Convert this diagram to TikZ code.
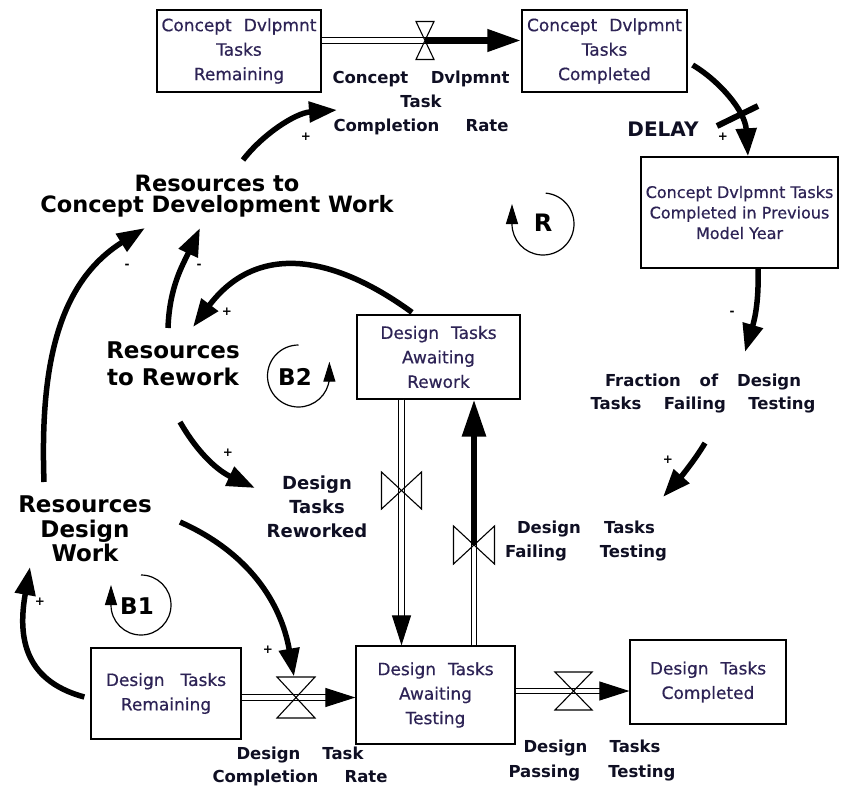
\documentclass[tikz,border=0pt]{standalone}
\usepackage{fontspec}
\setmainfont{DejaVu Sans}
\newfontfamily\stockfont{DejaVu Sans}[FakeBold=0.5]
\usetikzlibrary{arrows.meta,calc}
\definecolor{boxtxt}{RGB}{45,35,85}
\definecolor{lbltxt}{RGB}{15,15,35}
\begin{document}
\begin{tikzpicture}[x=1pt, y=1pt,
  stock/.style={draw, line width=1.3pt, inner sep=0pt, align=center, text=boxtxt, font=\stockfont\fontsize{17}{24.5}\selectfont},
  flowlbl/.style={align=center, inner sep=0pt, text=lbltxt, font=\bfseries\fontsize{16.5}{24}\selectfont},
  biglbl/.style={align=center, inner sep=0pt, text=black},
  sign/.style={inner sep=0pt, text=black, font=\bfseries\fontsize{12}{12}\selectfont},
  link/.style={line width=5.5pt, -{Triangle[length=28pt,width=20pt]}},
  pipe/.style={double, double distance=4.5pt, line width=1.2pt},
  pipetip/.style={line width=1pt, -{Triangle[length=30pt,width=19pt]}},
  loopc/.style={line width=1.2pt, -{Triangle[length=20pt,width=12pt]}},
  hvalve/.pic={\draw[line width=1.1pt] (-1,1) -- (1,1) -- (-1,-1) -- (1,-1) -- cycle;},
  vvalve/.pic={\draw[line width=1.1pt] (1,1) -- (1,-1) -- (-1,1) -- (-1,-1) -- cycle;}]

% canvas
\fill[white] (0,0) rectangle (841,-787);
\useasboundingbox (0,0) rectangle (841,-787);

% stocks
\node[stock, minimum width=164pt, minimum height=82pt] (cdr) at (239,-51)
  {Concept\hspace{12pt}Dvlpmnt\\Tasks\\Remaining};
\node[stock, minimum width=165pt, minimum height=82pt] (cdc) at (604.5,-51)
  {Concept\hspace{12pt}Dvlpmnt\\Tasks\\Completed};
\node[stock, minimum width=197pt, minimum height=111pt, font=\stockfont\fontsize{16}{20.5}\selectfont] (cdp) at (739.5,-212.5)
  {Concept Dvlpmnt Tasks\\Completed in Previous\\Model Year};
\node[stock, minimum width=163pt, minimum height=84pt] (dar) at (438.5,-357)
  {Design\hspace{12pt}Tasks\\Awaiting\\Rework};
\node[stock, minimum width=150pt, minimum height=91pt] (dtr) at (166,-693.5)
  {Design\hspace{16pt}Tasks\\Remaining};
\node[stock, minimum width=159pt, minimum height=98pt] (dat) at (435.5,-695)
  {Design\hspace{12pt}Tasks\\Awaiting\\Testing};
\node[stock, minimum width=156pt, minimum height=84pt] (dtc) at (708,-682)
  {Design\hspace{12pt}Tasks\\Completed};

% flow and variable labels
\node[flowlbl] (cdrate) at (421,-103)
  {\makebox[177pt][s]{Concept Dvlpmnt}\\Task\\\makebox[175pt][s]{Completion Rate}};
\node[flowlbl, font=\bfseries\fontsize{18}{24}\selectfont] (dtrw) at (317,-507) {Design\\Tasks\\Reworked};
\node[flowlbl] (dtft) at (586,-541)
  {\makebox[138pt][s]{Design Tasks}\\\makebox[162pt][s]{Failing Testing}};
\node[flowlbl, font=\bfseries\fontsize{16.5}{23}\selectfont] (fdt) at (703,-394)
  {\makebox[196pt][s]{Fraction of Design}\\\makebox[225pt][s]{Tasks Failing Testing}};
\node[flowlbl, font=\bfseries\fontsize{16.5}{23}\selectfont] (dcr) at (300,-766)
  {\makebox[127pt][s]{Design Task}\\\makebox[175pt][s]{Completion Rate}};
\node[flowlbl, font=\bfseries\fontsize{16.5}{25}\selectfont] (dpt) at (592,-761)
  {\makebox[137pt][s]{Design Tasks}\\\makebox[167pt][s]{Passing Testing}};
\node[flowlbl, font=\bfseries\fontsize{20}{20}\selectfont] (delay) at (663,-129.5) {DELAY};

% resource labels
\node[biglbl, font=\bfseries\fontsize{22.5}{21.5}\selectfont] (rcdw) at (217,-196)
  {Resources to\\Concept Development Work};
\node[biglbl, font=\bfseries\fontsize{23}{27}\selectfont] (rtr) at (173,-364)
  {Resources\\to Rework};
\node[biglbl, font=\bfseries\fontsize{23}{24.5}\selectfont] (rdw) at (85,-529)
  {Resources\\Design\\Work};

% loop labels
\node[biglbl, font=\bfseries\fontsize{24}{24}\selectfont] (lr) at (543,-223) {R};
\node[biglbl, font=\bfseries\fontsize{23}{23}\selectfont] (lb2) at (295,-376.5) {B2};
\node[biglbl, font=\bfseries\fontsize{23}{23}\selectfont] (lb1) at (137,-606.5) {B1};

% loop direction circles
\draw[loopc] (543,-224) ++(85:31) arc[start angle=85, end angle=-180, radius=31] -- ++(0,20);
\draw[loopc] (298.5,-376) ++(90:31) arc[start angle=90, end angle=355, radius=31] -- ++(0,17);
\draw[loopc] (141,-605) ++(90:30) arc[start angle=90, end angle=-180, radius=30] -- ++(0,20);

% valve positions
\coordinate (v1) at (425,-40.5);
\coordinate (v2) at (296,-697.5);
\coordinate (v3) at (573.5,-691);
\coordinate (v4) at (401.5,-490.5);
\coordinate (v5) at (474,-545);

% pipes
\draw[pipe] (cdr.east |- v1) -- (v1);
\draw[line width=7pt, -{Triangle[length=34pt,width=21pt]}] (v1) -- (cdc.west |- v1);
\draw[pipe] (dtr.east |- v2) -- ($(dat.west |- v2)+(-28,0)$);
\draw[pipetip] ($(dat.west |- v2)+(-28,0)$) -- (dat.west |- v2);
\draw[pipe] (dat.east |- v3) -- ($(dtc.west |- v3)+(-28,0)$);
\draw[pipetip] ($(dtc.west |- v3)+(-28,0)$) -- (dtc.west |- v3);
\draw[pipe] (dar.south -| v4) -- ($(dat.north -| v4)+(0,28)$);
\draw[pipetip] ($(dat.north -| v4)+(0,28)$) -- (dat.north -| v4);
\draw[pipe] (dat.north -| v5) -- (v5);
\draw[line width=6pt, -{Triangle[length=37pt,width=23pt]}] (v5) -- (dar.south -| v5);

% valves
\pic[xscale=9, yscale=19] at (v1) {hvalve};
\pic[xscale=19, yscale=20.5] at (v2) {hvalve};
\pic[xscale=18.5, yscale=19] at (v3) {hvalve};
\pic[xscale=20, yscale=18.5] at (v4) {vvalve};
\pic[xscale=20.5, yscale=19] at (v5) {vvalve};

% link end points
\coordinate (l1s) at (243,-160);  \coordinate (l1e) at (337,-110);
\coordinate (l3e) at (745,-352);
\coordinate (l4s) at (705,-443);  \coordinate (l4e) at (663,-497);
\coordinate (l5e) at (193,-327);
\coordinate (l6s) at (168,-328);  \coordinate (l6e) at (200,-228);
\coordinate (l7s) at (44,-482);   \coordinate (l7e) at (145,-228);
\coordinate (l8s) at (180,-422);  \coordinate (l8e) at (255,-488);
\coordinate (l9s) at (180,-522);
\coordinate (l10e) at (30,-567);

% causal links
\draw[link] (l1s) .. controls (262,-135) and (295,-113) .. (l1e);
\draw[link] ([shift={(5,-14)}]cdc.east) .. controls (718,-80) and (745,-110) .. ([xshift=8.5pt]cdp.north);
\draw[line width=6pt] (717,-126) -- (758,-106);
\draw[link] ([xshift=18.5pt]cdp.south) .. controls (759,-300) and (755,-318) .. (l3e);
\draw[link] (l4s) .. controls (695,-460) and (680,-478) .. (l4e);
\draw[link] ([shift={(-26.5,2)}]dar.north) to[out=144, in=53, looseness=1.2] (l5e);
\draw[link] (l6s) to[out=88, in=245] (l6e);
\draw[link] (l7s) to[out=92, in=212] (l7e);
\draw[link] (l8s) to[out=-60, in=155] (l8e);
\draw[link] (l9s) to[out=-24, in=100] ([shift={(-2,21)}]v2);
\draw[link] ([shift={(-6,-3.5)}]dtr.west) to[out=165, in=-100, looseness=1.2] (l10e);

% polarity signs
\node[sign] (p1) at (306,-137) {+};
\node[sign] (p2) at (723,-137) {+};
\node[sign] (p3) at (732,-313) {-};
\node[sign] (p4) at (668,-460) {+};
\node[sign] (p5) at (227,-312) {+};
\node[sign] (p6) at (199,-266) {-};
\node[sign] (p7) at (127,-266) {-};
\node[sign] (p8) at (228,-453) {+};
\node[sign] (p9) at (268,-650) {+};
\node[sign] (p10) at (40,-602) {+};
\end{tikzpicture}
\end{document}
